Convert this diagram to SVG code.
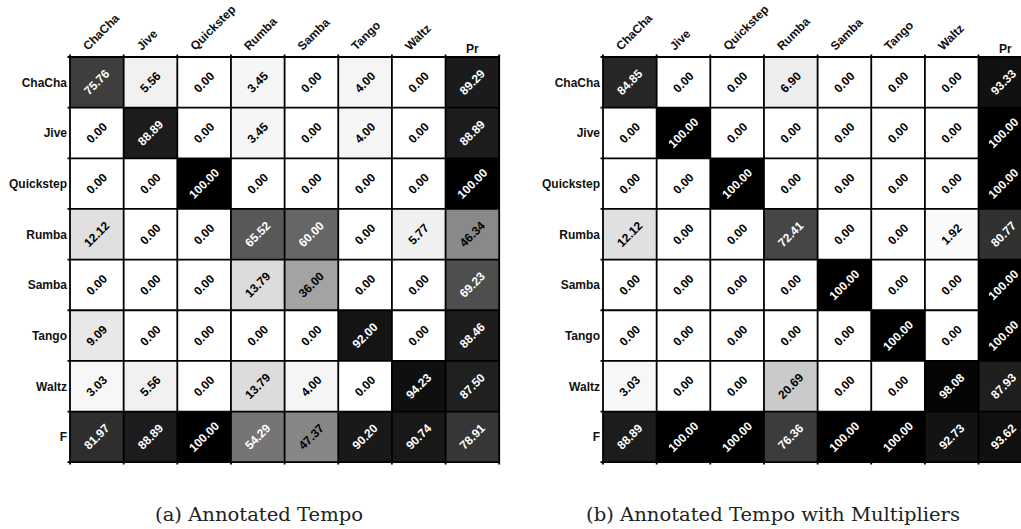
<svg xmlns="http://www.w3.org/2000/svg" width="1021" height="529" viewBox="0 0 1021 529">
<style>
.bg{fill:#fff}
.grid{fill:none;stroke:#000;stroke-width:1.8}
.v{font-family:"Liberation Sans",Arial,sans-serif;font-weight:bold;font-size:12px;text-anchor:middle;dominant-baseline:central;fill:#000}
.w{fill:#fff}
.rl{font-family:"Liberation Sans",Arial,sans-serif;font-weight:bold;font-size:12px;text-anchor:end;fill:#111}
.cl{font-family:"Liberation Sans",Arial,sans-serif;font-weight:bold;font-size:12px;text-anchor:start;fill:#111}
.pr{font-family:"Liberation Sans",Arial,sans-serif;font-weight:bold;font-size:12px;text-anchor:middle;fill:#111}
.cap{font-family:"DejaVu Serif","Liberation Serif",serif;font-size:19px;text-anchor:middle;fill:#222}
</style>
<rect width="1021" height="529" fill="#fff"/>

<g id="matrix-a" transform="translate(70,57)">
<rect class="bg" x="0" y="0" width="429.2" height="405.2"/>
<g id="cells-a">
<rect x="0" y="0" width="53.65" height="50.65" fill="#3e3e3e"/>
<rect x="53.65" y="0" width="53.65" height="50.65" fill="#f1f1f1"/>
<rect x="160.95" y="0" width="53.65" height="50.65" fill="#f6f6f6"/>
<rect x="268.25" y="0" width="53.65" height="50.65" fill="#f5f5f5"/>
<rect x="375.55" y="0" width="53.65" height="50.65" fill="#1b1b1b"/>
<rect x="53.65" y="50.65" width="53.65" height="50.65" fill="#1c1c1c"/>
<rect x="160.95" y="50.65" width="53.65" height="50.65" fill="#f6f6f6"/>
<rect x="268.25" y="50.65" width="53.65" height="50.65" fill="#f5f5f5"/>
<rect x="375.55" y="50.65" width="53.65" height="50.65" fill="#1c1c1c"/>
<rect x="107.3" y="101.3" width="53.65" height="50.65" fill="#000"/>
<rect x="375.55" y="101.3" width="53.65" height="50.65" fill="#000"/>
<rect x="0" y="151.95" width="53.65" height="50.65" fill="#e0e0e0"/>
<rect x="160.95" y="151.95" width="53.65" height="50.65" fill="#585858"/>
<rect x="214.6" y="151.95" width="53.65" height="50.65" fill="#666666"/>
<rect x="321.9" y="151.95" width="53.65" height="50.65" fill="#f0f0f0"/>
<rect x="375.55" y="151.95" width="53.65" height="50.65" fill="#898989"/>
<rect x="160.95" y="202.6" width="53.65" height="50.65" fill="#dcdcdc"/>
<rect x="214.6" y="202.6" width="53.65" height="50.65" fill="#a3a3a3"/>
<rect x="375.55" y="202.6" width="53.65" height="50.65" fill="#4e4e4e"/>
<rect x="0" y="253.25" width="53.65" height="50.65" fill="#e8e8e8"/>
<rect x="268.25" y="253.25" width="53.65" height="50.65" fill="#141414"/>
<rect x="375.55" y="253.25" width="53.65" height="50.65" fill="#1d1d1d"/>
<rect x="0" y="303.9" width="53.65" height="50.65" fill="#f7f7f7"/>
<rect x="53.65" y="303.9" width="53.65" height="50.65" fill="#f1f1f1"/>
<rect x="160.95" y="303.9" width="53.65" height="50.65" fill="#dcdcdc"/>
<rect x="214.6" y="303.9" width="53.65" height="50.65" fill="#f5f5f5"/>
<rect x="321.9" y="303.9" width="53.65" height="50.65" fill="#0f0f0f"/>
<rect x="375.55" y="303.9" width="53.65" height="50.65" fill="#202020"/>
<rect x="0" y="354.55" width="53.65" height="50.65" fill="#2e2e2e"/>
<rect x="53.65" y="354.55" width="53.65" height="50.65" fill="#1c1c1c"/>
<rect x="107.3" y="354.55" width="53.65" height="50.65" fill="#000"/>
<rect x="160.95" y="354.55" width="53.65" height="50.65" fill="#757575"/>
<rect x="214.6" y="354.55" width="53.65" height="50.65" fill="#868686"/>
<rect x="268.25" y="354.55" width="53.65" height="50.65" fill="#191919"/>
<rect x="321.9" y="354.55" width="53.65" height="50.65" fill="#181818"/>
<rect x="375.55" y="354.55" width="53.65" height="50.65" fill="#363636"/>
</g>
<path class="grid" d="M0 -2.5V407.5M53.65 -2.5V407.5M107.3 -2.5V407.5M160.95 -2.5V407.5M214.6 -2.5V407.5M268.25 -2.5V407.5M321.9 -2.5V407.5M375.55 -2.5V407.5M429.2 -2.5V407.5M-2.5 0H429.2M-2.5 50.65H429.2M-2.5 101.3H429.2M-2.5 151.95H429.2M-2.5 202.6H429.2M-2.5 253.25H429.2M-2.5 303.9H429.2M-2.5 354.55H429.2M-2.5 405.2H429.2"/>
<g id="values-a">
<text class="v w" x="26.8" y="25.3" transform="rotate(-45,26.8,25.3)">75.76</text>
<text class="v" x="80.5" y="25.3" transform="rotate(-45,80.5,25.3)">5.56</text>
<text class="v" x="134.1" y="25.3" transform="rotate(-45,134.1,25.3)">0.00</text>
<text class="v" x="187.8" y="25.3" transform="rotate(-45,187.8,25.3)">3.45</text>
<text class="v" x="241.4" y="25.3" transform="rotate(-45,241.4,25.3)">0.00</text>
<text class="v" x="295.1" y="25.3" transform="rotate(-45,295.1,25.3)">4.00</text>
<text class="v" x="348.7" y="25.3" transform="rotate(-45,348.7,25.3)">0.00</text>
<text class="v w" x="402.4" y="25.3" transform="rotate(-45,402.4,25.3)">89.29</text>

<text class="v" x="26.8" y="76" transform="rotate(-45,26.8,76)">0.00</text>
<text class="v w" x="80.5" y="76" transform="rotate(-45,80.5,76)">88.89</text>
<text class="v" x="134.1" y="76" transform="rotate(-45,134.1,76)">0.00</text>
<text class="v" x="187.8" y="76" transform="rotate(-45,187.8,76)">3.45</text>
<text class="v" x="241.4" y="76" transform="rotate(-45,241.4,76)">0.00</text>
<text class="v" x="295.1" y="76" transform="rotate(-45,295.1,76)">4.00</text>
<text class="v" x="348.7" y="76" transform="rotate(-45,348.7,76)">0.00</text>
<text class="v w" x="402.4" y="76" transform="rotate(-45,402.4,76)">88.89</text>

<text class="v" x="26.8" y="126.6" transform="rotate(-45,26.8,126.6)">0.00</text>
<text class="v" x="80.5" y="126.6" transform="rotate(-45,80.5,126.6)">0.00</text>
<text class="v w" x="134.1" y="126.6" transform="rotate(-45,134.1,126.6)">100.00</text>
<text class="v" x="187.8" y="126.6" transform="rotate(-45,187.8,126.6)">0.00</text>
<text class="v" x="241.4" y="126.6" transform="rotate(-45,241.4,126.6)">0.00</text>
<text class="v" x="295.1" y="126.6" transform="rotate(-45,295.1,126.6)">0.00</text>
<text class="v" x="348.7" y="126.6" transform="rotate(-45,348.7,126.6)">0.00</text>
<text class="v w" x="402.4" y="126.6" transform="rotate(-45,402.4,126.6)">100.00</text>

<text class="v" x="26.8" y="177.3" transform="rotate(-45,26.8,177.3)">12.12</text>
<text class="v" x="80.5" y="177.3" transform="rotate(-45,80.5,177.3)">0.00</text>
<text class="v" x="134.1" y="177.3" transform="rotate(-45,134.1,177.3)">0.00</text>
<text class="v w" x="187.8" y="177.3" transform="rotate(-45,187.8,177.3)">65.52</text>
<text class="v w" x="241.4" y="177.3" transform="rotate(-45,241.4,177.3)">60.00</text>
<text class="v" x="295.1" y="177.3" transform="rotate(-45,295.1,177.3)">0.00</text>
<text class="v" x="348.7" y="177.3" transform="rotate(-45,348.7,177.3)">5.77</text>
<text class="v" x="402.4" y="177.3" transform="rotate(-45,402.4,177.3)">46.34</text>

<text class="v" x="26.8" y="227.9" transform="rotate(-45,26.8,227.9)">0.00</text>
<text class="v" x="80.5" y="227.9" transform="rotate(-45,80.5,227.9)">0.00</text>
<text class="v" x="134.1" y="227.9" transform="rotate(-45,134.1,227.9)">0.00</text>
<text class="v" x="187.8" y="227.9" transform="rotate(-45,187.8,227.9)">13.79</text>
<text class="v" x="241.4" y="227.9" transform="rotate(-45,241.4,227.9)">36.00</text>
<text class="v" x="295.1" y="227.9" transform="rotate(-45,295.1,227.9)">0.00</text>
<text class="v" x="348.7" y="227.9" transform="rotate(-45,348.7,227.9)">0.00</text>
<text class="v w" x="402.4" y="227.9" transform="rotate(-45,402.4,227.9)">69.23</text>

<text class="v" x="26.8" y="278.6" transform="rotate(-45,26.8,278.6)">9.09</text>
<text class="v" x="80.5" y="278.6" transform="rotate(-45,80.5,278.6)">0.00</text>
<text class="v" x="134.1" y="278.6" transform="rotate(-45,134.1,278.6)">0.00</text>
<text class="v" x="187.8" y="278.6" transform="rotate(-45,187.8,278.6)">0.00</text>
<text class="v" x="241.4" y="278.6" transform="rotate(-45,241.4,278.6)">0.00</text>
<text class="v w" x="295.1" y="278.6" transform="rotate(-45,295.1,278.6)">92.00</text>
<text class="v" x="348.7" y="278.6" transform="rotate(-45,348.7,278.6)">0.00</text>
<text class="v w" x="402.4" y="278.6" transform="rotate(-45,402.4,278.6)">88.46</text>

<text class="v" x="26.8" y="329.2" transform="rotate(-45,26.8,329.2)">3.03</text>
<text class="v" x="80.5" y="329.2" transform="rotate(-45,80.5,329.2)">5.56</text>
<text class="v" x="134.1" y="329.2" transform="rotate(-45,134.1,329.2)">0.00</text>
<text class="v" x="187.8" y="329.2" transform="rotate(-45,187.8,329.2)">13.79</text>
<text class="v" x="241.4" y="329.2" transform="rotate(-45,241.4,329.2)">4.00</text>
<text class="v" x="295.1" y="329.2" transform="rotate(-45,295.1,329.2)">0.00</text>
<text class="v w" x="348.7" y="329.2" transform="rotate(-45,348.7,329.2)">94.23</text>
<text class="v w" x="402.4" y="329.2" transform="rotate(-45,402.4,329.2)">87.50</text>

<text class="v w" x="26.8" y="379.9" transform="rotate(-45,26.8,379.9)">81.97</text>
<text class="v w" x="80.5" y="379.9" transform="rotate(-45,80.5,379.9)">88.89</text>
<text class="v w" x="134.1" y="379.9" transform="rotate(-45,134.1,379.9)">100.00</text>
<text class="v w" x="187.8" y="379.9" transform="rotate(-45,187.8,379.9)">54.29</text>
<text class="v" x="241.4" y="379.9" transform="rotate(-45,241.4,379.9)">47.37</text>
<text class="v w" x="295.1" y="379.9" transform="rotate(-45,295.1,379.9)">90.20</text>
<text class="v w" x="348.7" y="379.9" transform="rotate(-45,348.7,379.9)">90.74</text>
<text class="v w" x="402.4" y="379.9" transform="rotate(-45,402.4,379.9)">78.91</text>
</g>
<g id="labels-a">
<text class="cl" x="18" y="-6" transform="rotate(-45,18,-6)">ChaCha</text>
<text class="cl" x="71.65" y="-6" transform="rotate(-45,71.65,-6)">Jive</text>
<text class="cl" x="125.3" y="-6" transform="rotate(-45,125.3,-6)">Quickstep</text>
<text class="cl" x="178.95" y="-6" transform="rotate(-45,178.95,-6)">Rumba</text>
<text class="cl" x="232.6" y="-6" transform="rotate(-45,232.6,-6)">Samba</text>
<text class="cl" x="286.25" y="-6" transform="rotate(-45,286.25,-6)">Tango</text>
<text class="cl" x="339.9" y="-6" transform="rotate(-45,339.9,-6)">Waltz</text>
<text class="pr" x="402.4" y="-4">Pr</text>
<text class="rl" x="-3" y="29.6">ChaCha</text>
<text class="rl" x="-3" y="80.3">Jive</text>
<text class="rl" x="-3" y="130.9">Quickstep</text>
<text class="rl" x="-3" y="181.6">Rumba</text>
<text class="rl" x="-3" y="232.2">Samba</text>
<text class="rl" x="-3" y="282.9">Tango</text>
<text class="rl" x="-3" y="333.5">Waltz</text>
<text class="rl" x="-3" y="384.2">F</text>
</g>
</g>

<g id="matrix-b" transform="translate(603,57)">
<rect class="bg" x="0" y="0" width="429.2" height="405.2"/>
<g id="cells-b">
<rect x="0" y="0" width="53.65" height="50.65" fill="#272727"/>
<rect x="160.95" y="0" width="53.65" height="50.65" fill="#ededed"/>
<rect x="375.55" y="0" width="53.65" height="50.65" fill="#111111"/>
<rect x="53.65" y="50.65" width="53.65" height="50.65" fill="#000"/>
<rect x="375.55" y="50.65" width="53.65" height="50.65" fill="#000"/>
<rect x="107.3" y="101.3" width="53.65" height="50.65" fill="#000"/>
<rect x="375.55" y="101.3" width="53.65" height="50.65" fill="#000"/>
<rect x="0" y="151.95" width="53.65" height="50.65" fill="#e0e0e0"/>
<rect x="160.95" y="151.95" width="53.65" height="50.65" fill="#464646"/>
<rect x="321.9" y="151.95" width="53.65" height="50.65" fill="#fafafa"/>
<rect x="375.55" y="151.95" width="53.65" height="50.65" fill="#313131"/>
<rect x="214.6" y="202.6" width="53.65" height="50.65" fill="#000"/>
<rect x="375.55" y="202.6" width="53.65" height="50.65" fill="#000"/>
<rect x="268.25" y="253.25" width="53.65" height="50.65" fill="#000"/>
<rect x="375.55" y="253.25" width="53.65" height="50.65" fill="#000"/>
<rect x="0" y="303.9" width="53.65" height="50.65" fill="#f7f7f7"/>
<rect x="160.95" y="303.9" width="53.65" height="50.65" fill="#cacaca"/>
<rect x="321.9" y="303.9" width="53.65" height="50.65" fill="#050505"/>
<rect x="375.55" y="303.9" width="53.65" height="50.65" fill="#1f1f1f"/>
<rect x="0" y="354.55" width="53.65" height="50.65" fill="#1c1c1c"/>
<rect x="53.65" y="354.55" width="53.65" height="50.65" fill="#000"/>
<rect x="107.3" y="354.55" width="53.65" height="50.65" fill="#000"/>
<rect x="160.95" y="354.55" width="53.65" height="50.65" fill="#3c3c3c"/>
<rect x="214.6" y="354.55" width="53.65" height="50.65" fill="#000"/>
<rect x="268.25" y="354.55" width="53.65" height="50.65" fill="#000"/>
<rect x="321.9" y="354.55" width="53.65" height="50.65" fill="#131313"/>
<rect x="375.55" y="354.55" width="53.65" height="50.65" fill="#101010"/>
</g>
<path class="grid" d="M0 -2.5V407.5M53.65 -2.5V407.5M107.3 -2.5V407.5M160.95 -2.5V407.5M214.6 -2.5V407.5M268.25 -2.5V407.5M321.9 -2.5V407.5M375.55 -2.5V407.5M429.2 -2.5V407.5M-2.5 0H429.2M-2.5 50.65H429.2M-2.5 101.3H429.2M-2.5 151.95H429.2M-2.5 202.6H429.2M-2.5 253.25H429.2M-2.5 303.9H429.2M-2.5 354.55H429.2M-2.5 405.2H429.2"/>
<g id="values-b">
<text class="v w" x="26.8" y="25.3" transform="rotate(-45,26.8,25.3)">84.85</text>
<text class="v" x="80.5" y="25.3" transform="rotate(-45,80.5,25.3)">0.00</text>
<text class="v" x="134.1" y="25.3" transform="rotate(-45,134.1,25.3)">0.00</text>
<text class="v" x="187.8" y="25.3" transform="rotate(-45,187.8,25.3)">6.90</text>
<text class="v" x="241.4" y="25.3" transform="rotate(-45,241.4,25.3)">0.00</text>
<text class="v" x="295.1" y="25.3" transform="rotate(-45,295.1,25.3)">0.00</text>
<text class="v" x="348.7" y="25.3" transform="rotate(-45,348.7,25.3)">0.00</text>
<text class="v w" x="400.5" y="25.3" transform="rotate(-45,400.5,25.3)">93.33</text>

<text class="v" x="26.8" y="76" transform="rotate(-45,26.8,76)">0.00</text>
<text class="v w" x="80.5" y="76" transform="rotate(-45,80.5,76)">100.00</text>
<text class="v" x="134.1" y="76" transform="rotate(-45,134.1,76)">0.00</text>
<text class="v" x="187.8" y="76" transform="rotate(-45,187.8,76)">0.00</text>
<text class="v" x="241.4" y="76" transform="rotate(-45,241.4,76)">0.00</text>
<text class="v" x="295.1" y="76" transform="rotate(-45,295.1,76)">0.00</text>
<text class="v" x="348.7" y="76" transform="rotate(-45,348.7,76)">0.00</text>
<text class="v w" x="400.5" y="76" transform="rotate(-45,400.5,76)">100.00</text>

<text class="v" x="26.8" y="126.6" transform="rotate(-45,26.8,126.6)">0.00</text>
<text class="v" x="80.5" y="126.6" transform="rotate(-45,80.5,126.6)">0.00</text>
<text class="v w" x="134.1" y="126.6" transform="rotate(-45,134.1,126.6)">100.00</text>
<text class="v" x="187.8" y="126.6" transform="rotate(-45,187.8,126.6)">0.00</text>
<text class="v" x="241.4" y="126.6" transform="rotate(-45,241.4,126.6)">0.00</text>
<text class="v" x="295.1" y="126.6" transform="rotate(-45,295.1,126.6)">0.00</text>
<text class="v" x="348.7" y="126.6" transform="rotate(-45,348.7,126.6)">0.00</text>
<text class="v w" x="400.5" y="126.6" transform="rotate(-45,400.5,126.6)">100.00</text>

<text class="v" x="26.8" y="177.3" transform="rotate(-45,26.8,177.3)">12.12</text>
<text class="v" x="80.5" y="177.3" transform="rotate(-45,80.5,177.3)">0.00</text>
<text class="v" x="134.1" y="177.3" transform="rotate(-45,134.1,177.3)">0.00</text>
<text class="v w" x="187.8" y="177.3" transform="rotate(-45,187.8,177.3)">72.41</text>
<text class="v" x="241.4" y="177.3" transform="rotate(-45,241.4,177.3)">0.00</text>
<text class="v" x="295.1" y="177.3" transform="rotate(-45,295.1,177.3)">0.00</text>
<text class="v" x="348.7" y="177.3" transform="rotate(-45,348.7,177.3)">1.92</text>
<text class="v w" x="400.5" y="177.3" transform="rotate(-45,400.5,177.3)">80.77</text>

<text class="v" x="26.8" y="227.9" transform="rotate(-45,26.8,227.9)">0.00</text>
<text class="v" x="80.5" y="227.9" transform="rotate(-45,80.5,227.9)">0.00</text>
<text class="v" x="134.1" y="227.9" transform="rotate(-45,134.1,227.9)">0.00</text>
<text class="v" x="187.8" y="227.9" transform="rotate(-45,187.8,227.9)">0.00</text>
<text class="v w" x="241.4" y="227.9" transform="rotate(-45,241.4,227.9)">100.00</text>
<text class="v" x="295.1" y="227.9" transform="rotate(-45,295.1,227.9)">0.00</text>
<text class="v" x="348.7" y="227.9" transform="rotate(-45,348.7,227.9)">0.00</text>
<text class="v w" x="400.5" y="227.9" transform="rotate(-45,400.5,227.9)">100.00</text>

<text class="v" x="26.8" y="278.6" transform="rotate(-45,26.8,278.6)">0.00</text>
<text class="v" x="80.5" y="278.6" transform="rotate(-45,80.5,278.6)">0.00</text>
<text class="v" x="134.1" y="278.6" transform="rotate(-45,134.1,278.6)">0.00</text>
<text class="v" x="187.8" y="278.6" transform="rotate(-45,187.8,278.6)">0.00</text>
<text class="v" x="241.4" y="278.6" transform="rotate(-45,241.4,278.6)">0.00</text>
<text class="v w" x="295.1" y="278.6" transform="rotate(-45,295.1,278.6)">100.00</text>
<text class="v" x="348.7" y="278.6" transform="rotate(-45,348.7,278.6)">0.00</text>
<text class="v w" x="400.5" y="278.6" transform="rotate(-45,400.5,278.6)">100.00</text>

<text class="v" x="26.8" y="329.2" transform="rotate(-45,26.8,329.2)">3.03</text>
<text class="v" x="80.5" y="329.2" transform="rotate(-45,80.5,329.2)">0.00</text>
<text class="v" x="134.1" y="329.2" transform="rotate(-45,134.1,329.2)">0.00</text>
<text class="v" x="187.8" y="329.2" transform="rotate(-45,187.8,329.2)">20.69</text>
<text class="v" x="241.4" y="329.2" transform="rotate(-45,241.4,329.2)">0.00</text>
<text class="v" x="295.1" y="329.2" transform="rotate(-45,295.1,329.2)">0.00</text>
<text class="v w" x="348.7" y="329.2" transform="rotate(-45,348.7,329.2)">98.08</text>
<text class="v w" x="400.5" y="329.2" transform="rotate(-45,400.5,329.2)">87.93</text>

<text class="v w" x="26.8" y="379.9" transform="rotate(-45,26.8,379.9)">88.89</text>
<text class="v w" x="80.5" y="379.9" transform="rotate(-45,80.5,379.9)">100.00</text>
<text class="v w" x="134.1" y="379.9" transform="rotate(-45,134.1,379.9)">100.00</text>
<text class="v w" x="187.8" y="379.9" transform="rotate(-45,187.8,379.9)">76.36</text>
<text class="v w" x="241.4" y="379.9" transform="rotate(-45,241.4,379.9)">100.00</text>
<text class="v w" x="295.1" y="379.9" transform="rotate(-45,295.1,379.9)">100.00</text>
<text class="v w" x="348.7" y="379.9" transform="rotate(-45,348.7,379.9)">92.73</text>
<text class="v w" x="400.5" y="379.9" transform="rotate(-45,400.5,379.9)">93.62</text>
</g>
<g id="labels-b">
<text class="cl" x="18" y="-6" transform="rotate(-45,18,-6)">ChaCha</text>
<text class="cl" x="71.65" y="-6" transform="rotate(-45,71.65,-6)">Jive</text>
<text class="cl" x="125.3" y="-6" transform="rotate(-45,125.3,-6)">Quickstep</text>
<text class="cl" x="178.95" y="-6" transform="rotate(-45,178.95,-6)">Rumba</text>
<text class="cl" x="232.6" y="-6" transform="rotate(-45,232.6,-6)">Samba</text>
<text class="cl" x="286.25" y="-6" transform="rotate(-45,286.25,-6)">Tango</text>
<text class="cl" x="339.9" y="-6" transform="rotate(-45,339.9,-6)">Waltz</text>
<text class="pr" x="402.4" y="-4">Pr</text>
<text class="rl" x="-3" y="29.6">ChaCha</text>
<text class="rl" x="-3" y="80.3">Jive</text>
<text class="rl" x="-3" y="130.9">Quickstep</text>
<text class="rl" x="-3" y="181.6">Rumba</text>
<text class="rl" x="-3" y="232.2">Samba</text>
<text class="rl" x="-3" y="282.9">Tango</text>
<text class="rl" x="-3" y="333.5">Waltz</text>
<text class="rl" x="-3" y="384.2">F</text>
</g>
</g>

<g id="captions">
<text class="cap" x="259" y="521" textLength="208" lengthAdjust="spacingAndGlyphs">(a) Annotated Tempo</text>
<text class="cap" x="773" y="521" textLength="374" lengthAdjust="spacingAndGlyphs">(b) Annotated Tempo with Multipliers</text>
</g>
</svg>
